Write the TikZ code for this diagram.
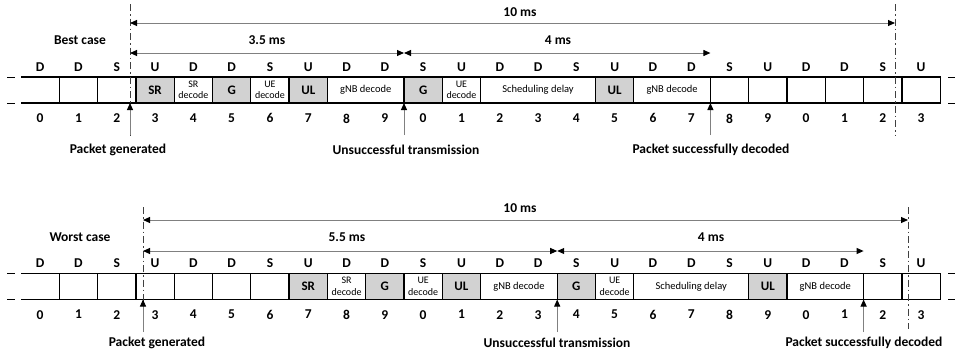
\documentclass[tikz,border=0pt]{standalone}
\usepackage{fontspec}
\setmainfont{Carlito}
\usetikzlibrary{calc, positioning, arrows.meta}

\begin{document}
\begin{tikzpicture}[
        x=1pt, y=-1pt,
        slot/.style={draw=black, line width=1.3pt, minimum width=38.3pt, minimum height=26pt, inner sep=0pt, outer sep=0pt},
        busy/.style={slot, fill=gray!35, font=\bfseries\fontsize{13}{13}\selectfont},
        work/.style={slot, fill=white, font=\fontsize{10.5}{10.5}\selectfont},
        tiny/.style={slot, fill=white, align=center, font=\fontsize{10}{11.5}\selectfont},
        lbl/.style={font=\bfseries\fontsize{13.5}{14}\selectfont, inner sep=1pt},
        rim/.style={draw=black, line width=1.3pt},
        limit/.style={draw=black!75, line width=0.9pt, dash pattern=on 7pt off 3pt on 1.5pt off 3pt},
        span/.style={draw=gray, line width=1pt, {Triangle[length=7pt, width=6pt, color=black]}-{Triangle[length=7pt, width=6pt, color=black]}},
        hit/.style={draw=gray, line width=1pt, -{Triangle[length=7pt, width=6pt, color=black]}}
    ]
    \useasboundingbox (0,0) rectangle (955,354);

    % Best case: slots
    \node[slot, draw=none] (t0) at (40.15,90) {};
    \foreach \k in {1,...,23}
        \node[slot] (t\k) at (40.15+38.3*\k,90) {};
    \draw[rim] (t0.north west) -- (t0.north east) (t0.south west) -- (t0.south east);
    \draw[rim, line width=1pt] ([xshift=-14pt]t0.north west) -- ([xshift=-6pt]t0.north west)
        ([xshift=-14pt]t0.south west) -- ([xshift=-6pt]t0.south west);
    \draw[rim, line width=1pt] ([xshift=8pt]t23.north east) -- ([xshift=16pt]t23.north east)
        ([xshift=8pt]t23.south east) -- ([xshift=16pt]t23.south east);

    % Worst case: slots
    \node[slot, draw=none] (w0) at (40.15,286.5) {};
    \foreach \k in {1,...,23}
        \node[slot] (w\k) at (40.15+38.3*\k,286.5) {};
    \draw[rim] (w0.north west) -- (w0.north east) (w0.south west) -- (w0.south east);
    \draw[rim, line width=1pt] ([xshift=-14pt]w0.north west) -- ([xshift=-6pt]w0.north west)
        ([xshift=-14pt]w0.south west) -- ([xshift=-6pt]w0.south west);
    \draw[rim, line width=1pt] ([xshift=8pt]w23.north east) -- ([xshift=16pt]w23.north east)
        ([xshift=8pt]w23.south east) -- ([xshift=16pt]w23.south east);

    % slot type and slot number
    \foreach \k in {0,...,23} {
        \pgfmathsetmacro\dir{{"D","D","S","U"}[int(mod(\k,4))]}
        \pgfmathtruncatemacro\num{mod(\k,10)}
        \node[lbl, above=4.5pt of t\k] {\dir};
        \node[lbl, below=9.5pt of t\k] {\num};
        \node[lbl, above=4.5pt of w\k] {\dir};
        \node[lbl, below=9.5pt of w\k] {\num};
    }

    % Best case: procedure
    \node[busy] (sr1) at (t3) {SR};
    \node[tiny] (srd1) at (t4) {SR\\decode};
    \node[busy] (g1) at (t5) {G};
    \node[tiny] (ued1) at (t6) {UE\\decode};
    \node[busy] (ul1) at (t7) {UL};
    \node[work, minimum width=76.6pt] (gnb1) at ($(t8)!0.5!(t9)$) {gNB decode};
    \node[busy] (g1b) at (t10) {G};
    \node[tiny] (ued1b) at (t11) {UE\\decode};
    \node[work, minimum width=114.9pt] (sch1) at (t13) {Scheduling delay};
    \node[busy] (ul1b) at (t15) {UL};
    \node[work, minimum width=76.6pt] (gnb1b) at ($(t16)!0.5!(t17)$) {gNB decode};

    % Worst case: procedure
    \node[busy] (sr2) at (w7) {SR};
    \node[tiny] (srd2) at (w8) {SR\\decode};
    \node[busy] (g2) at (w9) {G};
    \node[tiny] (ued2) at (w10) {UE\\decode};
    \node[busy] (ul2) at (w11) {UL};
    \node[work, minimum width=76.6pt] (gnb2) at ($(w12)!0.5!(w13)$) {gNB decode};
    \node[busy] (g2b) at (w14) {G};
    \node[tiny] (ued2b) at (w15) {UE\\decode};
    \node[work, minimum width=114.9pt] (sch2) at (w17) {Scheduling delay};
    \node[busy] (ul2b) at (w19) {UL};
    \node[work, minimum width=76.6pt] (gnb2b) at ($(w20)!0.5!(w21)$) {gNB decode};

    % Best case: timing
    \node[lbl] (best) at (80,40) {Best case};
    \coordinate (s1) at (130,4);
    \coordinate (s1b) at (130,136);
    \coordinate (e1) at (895,4);
    \coordinate (e1b) at (895,136);
    \coordinate (r10a) at (0,23);
    \coordinate (r35a) at (0,53);
    \coordinate (lo1) at (0,135);
    \draw[limit] (s1) -- (s1b);
    \draw[limit] (e1) -- (e1b);
    \draw[span] (s1 |- r10a) -- (e1 |- r10a);
    \draw[span] (s1 |- r35a) -- (t10.west |- r35a);
    \draw[span] (t10.west |- r35a) -- (t18.west |- r35a);
    \node[lbl] (ten1) at (520,12) {10 ms};
    \node[lbl] (first1) at (267,40) {3.5 ms};
    \node[lbl] (second1) at (558,40) {4 ms};
    \draw[hit] (s1 |- lo1) -- (s1 |- t3.south);
    \draw[hit] (t10.south west |- lo1) -- (t10.south west);
    \draw[hit] (t18.south west |- lo1) -- (t18.south west);
    \node[lbl] (gen1) at (118,150) {Packet generated};
    \node[lbl] (fail1) at (406,150) {Unsuccessful transmission};
    \node[lbl] (done1) at (711,150) {Packet successfully decoded};

    % Worst case: timing
    \node[lbl] (worst) at (80,237) {Worst case};
    \coordinate (s2) at (143,207);
    \coordinate (s2b) at (143,331);
    \coordinate (e2) at (908,207);
    \coordinate (e2b) at (908,329);
    \coordinate (r10b) at (0,220);
    \coordinate (r55b) at (0,251);
    \coordinate (lo2) at (0,332);
    \draw[limit] (s2) -- (s2b);
    \draw[limit] (e2) -- (e2b);
    \draw[span] (s2 |- r10b) -- (e2 |- r10b);
    \draw[span] (s2 |- r55b) -- (w14.west |- r55b);
    \draw[span] (w14.west |- r55b) -- (w22.west |- r55b);
    \node[lbl] (ten2) at (520,208) {10 ms};
    \node[lbl] (first2) at (347,237) {5.5 ms};
    \node[lbl] (second2) at (711,237) {4 ms};
    \draw[hit] (s2 |- lo2) -- (s2 |- w3.south);
    \draw[hit] (w14.south west |- lo2) -- (w14.south west);
    \draw[hit] (w22.south west |- lo2) -- (w22.south west);
    \node[lbl] (gen2) at (157,343) {Packet generated};
    \node[lbl] (fail2) at (557,343) {Unsuccessful transmission};
    \node[lbl] (done2) at (864,343) {Packet successfully decoded};

\end{tikzpicture}
\end{document}
